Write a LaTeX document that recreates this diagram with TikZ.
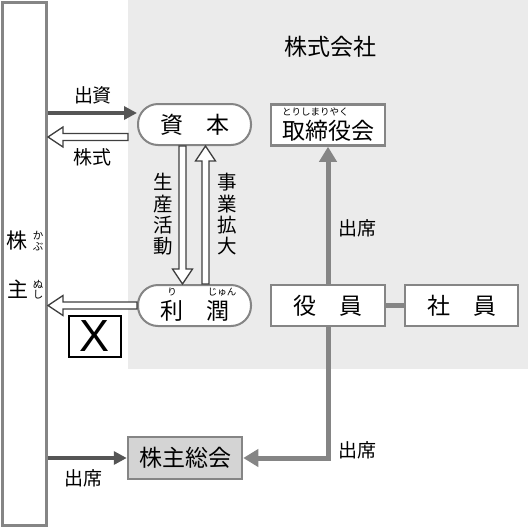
\documentclass[tikz,border=0pt]{standalone}
\usepackage{fontspec}
\setmainfont{Noto Sans CJK JP}
\newfontfamily\latinfont{Liberation Sans}
\usetikzlibrary{positioning,calc,arrows.meta}

\definecolor{bggray}{HTML}{EBEBEB}
\definecolor{linegray}{HTML}{858585}
\definecolor{arrowdark}{HTML}{555555}
\definecolor{boxfill}{HTML}{D4D4D4}

\tikzset{
  boxfont/.style={font=\fontsize{23}{26}\selectfont},
  lblfont/.style={font=\fontsize{19}{21}\selectfont},
  vertfont/.style={font=\fontsize{19.5}{21.3}\selectfont, align=center, inner sep=0pt},
  rubyfont/.style={font=\fontsize{9.5}{10}\selectfont, inner sep=0pt, align=center},
  sideruby/.style={font=\fontsize{10.5}{11}\selectfont, inner sep=0pt},
  pill/.style={draw=linegray, line width=2pt, fill=white, rounded corners=20pt,
    minimum width=113pt, minimum height=41pt, inner sep=0pt, boxfont},
  sqbox/.style={draw=linegray, line width=2.5pt, fill=white,
    minimum width=114pt, minimum height=41pt, inner sep=0pt, boxfont},
  darkarr/.style={draw=arrowdark, line width=4pt, -{Triangle[length=13pt,width=13pt]}},
  grayarr/.style={draw=linegray, line width=5pt, -{Triangle[length=15pt,width=17pt]}},
  grayline/.style={draw=linegray, line width=5pt},
  openarr/.style={draw=black!75, line width=1.3pt, fill=white, line join=miter}
}

% hollow arrow from #1 to #2 (named coordinates)
\newcommand{\openarrow}[2]{%
  \coordinate (oa-h) at ($(#2)!15pt!(#1)$);
  \draw[openarr] ($(#1)!3.5pt!90:(#2)$) -- ($(oa-h)!3.5pt!-90:(#1)$)
    -- ($(oa-h)!10pt!-90:(#1)$) -- (#2) -- ($(oa-h)!10pt!90:(#1)$)
    -- ($(oa-h)!3.5pt!90:(#1)$) -- ($(#1)!3.5pt!-90:(#2)$) -- cycle;}

\begin{document}
\begin{tikzpicture}[x=1pt,y=-1pt]
    \useasboundingbox (0,0) rectangle (528,528);
    \fill[bggray] (128,0) rectangle (528,369);

    % shareholders
    \node[draw=linegray, line width=3pt, fill=white, minimum width=44pt,
      minimum height=523pt, inner sep=0pt] (bar) at (24.5,264) {};
    \node[font=\fontsize{21}{22}\selectfont, inner sep=0pt] (kabu) at (17,241) {株};
    \node[sideruby] (ka-r) at (38,235.5) {か};
    \node[sideruby] (bu-r) at (38,247) {ぶ};
    \node[font=\fontsize{21}{22}\selectfont, inner sep=0pt] (nushi) at (18,289) {主};
    \node[sideruby] (nu-r) at (38,284.5) {ぬ};
    \node[sideruby] (shi-r) at (38,295) {し};

    % company
    \node[boxfont] (kaisha) at (330,47) {株式会社};
    \node[pill] (shihon) at (194.5,124.5) {資　本};
    \node[pill, label={[boxfont, yshift=-5pt]center:利　潤}] (rijun) at (194.5,305.5) {};
    \node[rubyfont] (ri-r) at ($(rijun.center)+(-22.5,-13.5)$) {り};
    \node[rubyfont] (jun-r) at ($(rijun.center)+(27.5,-13.5)$) {じゅん};
    \node[sqbox, label={[boxfont, yshift=-6pt]center:取締役会}] (torishimari) at (328,125) {};
    \node[rubyfont, anchor=west] (tori-r) at (282,112) {とりしまりやく};
    \node[sqbox] (yakuin) at (328,305.5) {役　員};
    \node[sqbox, minimum width=113pt] (shain) at (461.5,305.5) {社　員};
    \node[sqbox, fill=boxfill, minimum width=114pt, minimum height=42pt] (soukai) at (185,458) {株主総会};
    \node[draw=black, line width=2pt, minimum width=52pt, minimum height=41pt, inner sep=0pt,
      font=\fontsize{45}{45}\selectfont\latinfont] (xbox) at (94.5,336) {X};

    % money and shares
    \coordinate (shussi) at ($(shihon.west)+(0,-11.5)$);
    \draw[darkarr] (bar.east |- shussi) -- (shussi);
    \node[lblfont] (shussi-l) at (93,95) {出資};
    \coordinate (kabushiki-s) at (128,137);
    \coordinate (kabushiki-e) at (bar.east |- kabushiki-s);
    \openarrow{kabushiki-s}{kabushiki-e}
    \node[lblfont] (kabushiki-l) at (92.5,157.5) {株式};
    \coordinate (haitou-e) at (bar.east |- rijun.west);
    \openarrow{rijun.west}{haitou-e}

    % between capital and profit
    \coordinate (seisan-s) at ($(shihon.south)+(-12,0)$);
    \coordinate (seisan-e) at ($(rijun.north)+(-12,0)$);
    \openarrow{seisan-s}{seisan-e}
    \coordinate (jigyou-s) at ($(rijun.north)+(11,0)$);
    \coordinate (jigyou-e) at ($(shihon.south)+(11,0)$);
    \openarrow{jigyou-s}{jigyou-e}
    \node[vertfont] (seisan-l) at (163,214.5) {生\\産\\活\\動};
    \node[vertfont] (jigyou-l) at (227,214.5) {事\\業\\拡\\大};

    % attendance
    \draw[grayarr] (yakuin.north) -- (torishimari.south);
    \draw[grayline] (yakuin) -- (shain);
    \draw[grayarr] (yakuin.south) |- (soukai.east);
    \draw[darkarr] (bar.east |- soukai.west) -- (soukai.west);
    \node[lblfont] (shusseki-1) at (357,228) {出席};
    \node[lblfont] (shusseki-2) at (357,450) {出席};
    \node[lblfont] (shusseki-3) at (83,478) {出席};
\end{tikzpicture}
\end{document}
